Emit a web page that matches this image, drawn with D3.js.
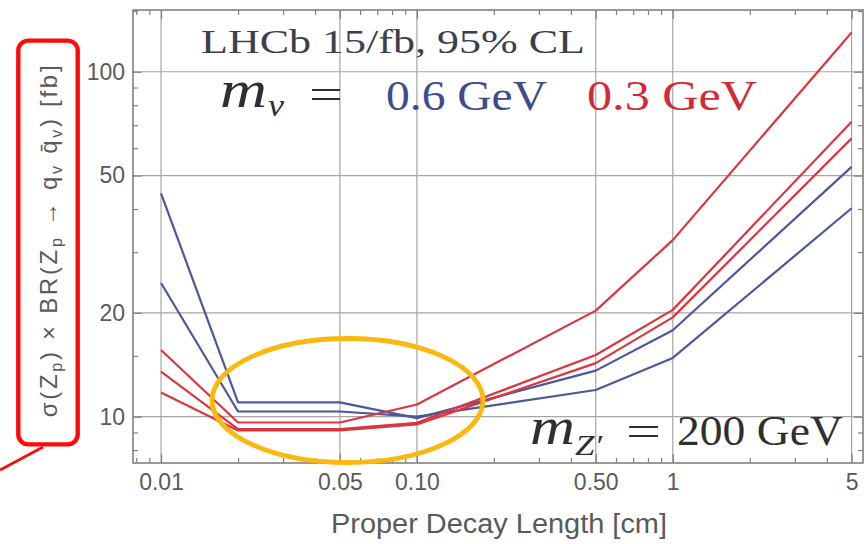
<!DOCTYPE html>
<html><head><meta charset="utf-8">
<script src="https://cdn.jsdelivr.net/npm/d3@7"></script>
<style>html,body{margin:0;padding:0;background:#fff;} svg{display:block;}</style>
</head><body>
<script>
// ---------- data ----------
const decayLengths = [0.01, 0.02, 0.05, 0.1, 0.5, 1, 5];
const blueA = [44.4, 11.0, 11.0, 9.9, 13.6, 17.8, 53.0];
const blueB = [24.4, 10.35, 10.35, 10.0, 11.95, 14.8, 40.2];
const redA  = [15.6, 9.62, 9.62, 10.85, 20.3, 32.5, 130];
const redB  = [13.5, 9.2, 9.2, 9.6, 15.1, 20.4, 71.6];
const redC  = [11.75, 9.12, 9.12, 9.5, 14.3, 19.4, 64.1];
const xTickValues = [0.01, 0.05, 0.1, 0.5, 1, 5];
const xTickLabels = ["0.01", "0.05", "0.10", "0.50", "1", "5"];
const xMinorTicks = [0.008, 0.009, 0.02, 0.03, 0.04, 0.06, 0.07, 0.08, 0.09, 0.2, 0.3, 0.4, 0.6, 0.7, 0.8, 0.9, 2, 3, 4];
const yTickValues = [10, 20, 50, 100];
const yTickLabels = ["10", "20", "50", "100"];
const yMinorTicks = [8, 9, 15, 30, 40, 60, 70, 80, 90, 150];

// ---------- layout ----------
const W = 864, H = 544;
const plot = {left: 133, right: 863, top: 10, bottom: 463};
const xDomain = [0.00777, 5.54], yDomain = [7.34, 151];
const blue = "#4b5899", red = "#da3640";
const gridColor = "#a6a6a6", frameColor = "#808080", tickText = "#5a5a5a";

const svg = d3.select("body").append("svg").attr("width", W).attr("height", H)
  .style("font-family", "'Liberation Sans', Arial, sans-serif");

const x = d3.scaleLog().domain(xDomain).range([plot.left, plot.right]);
const y = d3.scaleLog().domain(yDomain).range([plot.bottom, plot.top]);

// grid
svg.append("g").selectAll("line").data(xTickValues).join("line")
  .attr("x1", d => x(d)).attr("x2", d => x(d))
  .attr("y1", plot.top).attr("y2", plot.bottom)
  .attr("stroke", gridColor).attr("stroke-width", 1.2);
svg.append("g").selectAll("line").data(yTickValues).join("line")
  .attr("y1", d => y(d)).attr("y2", d => y(d))
  .attr("x1", plot.left).attr("x2", plot.right)
  .attr("stroke", gridColor).attr("stroke-width", 1.2);

// axes (inward ticks, Mathematica-style frame)
function styleAxis(g) {
  g.select(".domain").remove();
  g.selectAll(".tick line").attr("stroke", frameColor).attr("stroke-width", 1.2);
  g.selectAll(".tick text").attr("fill", tickText).attr("font-size", 23);
}
svg.append("g").attr("transform", `translate(0,${plot.bottom})`)
  .call(d3.axisBottom(x).tickValues(xTickValues).tickFormat((d, i) => xTickLabels[i])
    .tickSizeInner(-9).tickSizeOuter(0).tickPadding(11)).call(styleAxis);
svg.append("g").attr("transform", `translate(0,${plot.bottom})`)
  .call(d3.axisBottom(x).tickValues(xMinorTicks).tickFormat("").tickSizeInner(-5).tickSizeOuter(0)).call(styleAxis);
svg.append("g").attr("transform", `translate(0,${plot.top})`)
  .call(d3.axisTop(x).tickValues(xTickValues).tickFormat("").tickSizeInner(-9).tickSizeOuter(0)).call(styleAxis);
svg.append("g").attr("transform", `translate(0,${plot.top})`)
  .call(d3.axisTop(x).tickValues(xMinorTicks).tickFormat("").tickSizeInner(-5).tickSizeOuter(0)).call(styleAxis);
svg.append("g").attr("transform", `translate(${plot.left},0)`)
  .call(d3.axisLeft(y).tickValues(yTickValues).tickFormat((d, i) => yTickLabels[i])
    .tickSizeInner(-9).tickSizeOuter(0).tickPadding(8)).call(styleAxis);
svg.append("g").attr("transform", `translate(${plot.left},0)`)
  .call(d3.axisLeft(y).tickValues(yMinorTicks).tickFormat("").tickSizeInner(-5).tickSizeOuter(0)).call(styleAxis);
svg.append("g").attr("transform", `translate(${plot.right},0)`)
  .call(d3.axisRight(y).tickValues(yTickValues).tickFormat("").tickSizeInner(-9).tickSizeOuter(0)).call(styleAxis);
svg.append("g").attr("transform", `translate(${plot.right},0)`)
  .call(d3.axisRight(y).tickValues(yMinorTicks).tickFormat("").tickSizeInner(-5).tickSizeOuter(0)).call(styleAxis);

// frame
svg.append("rect").attr("x", plot.left).attr("y", plot.top)
  .attr("width", plot.right - plot.left).attr("height", plot.bottom - plot.top)
  .attr("fill", "none").attr("stroke", frameColor).attr("stroke-width", 1.6);

// curves
const series = [
  {values: blueA, color: blue}, {values: blueB, color: blue},
  {values: redA, color: red}, {values: redB, color: red}, {values: redC, color: red}
];
const line = d3.line().x((d, i) => x(decayLengths[i])).y(d => y(d));
svg.append("g").selectAll("path").data(series).join("path")
  .attr("d", d => line(d.values)).attr("fill", "none")
  .attr("stroke", d => d.color).attr("stroke-width", 2.2).attr("stroke-linejoin", "round");

// helper for fitted text
function fit(sel, w) {
  if (w) sel.attr("textLength", w).attr("lengthAdjust", "spacingAndGlyphs");
  return sel;
}
const serif = "'Liberation Serif', 'DejaVu Serif', serif";

// title texts
fit(svg.append("text").attr("x", 201).attr("y", 53).attr("font-family", serif)
  .attr("font-size", 33).attr("fill", "#3c404c").text("LHCb 15/fb, 95% CL"), 384);

fit(svg.append("text").attr("x", 220).attr("y", 107).attr("font-family", serif).attr("font-style", "italic")
  .attr("font-size", 52).attr("fill", "#2f2f2f").text("m"), 47);
fit(svg.append("text").attr("x", 268).attr("y", 116).attr("font-family", serif).attr("font-style", "italic")
  .attr("font-size", 32).attr("fill", "#2f2f2f").text("v"), 16);
fit(svg.append("text").attr("x", 309).attr("y", 108).attr("font-family", serif)
  .attr("font-size", 43).attr("fill", "#2f2f2f").text("="), 34);
fit(svg.append("text").attr("x", 386).attr("y", 110).attr("font-family", serif)
  .attr("font-size", 43).attr("fill", "#3e4c8e").text("0.6 GeV"), 161);
fit(svg.append("text").attr("x", 587).attr("y", 110).attr("font-family", serif)
  .attr("font-size", 43).attr("fill", "#d42a35").text("0.3 GeV"), 170);

fit(svg.append("text").attr("x", 530).attr("y", 444).attr("font-family", serif).attr("font-style", "italic")
  .attr("font-size", 52).attr("fill", "#2f2f2f").text("m"), 45);
fit(svg.append("text").attr("x", 575).attr("y", 455).attr("font-family", serif).attr("font-style", "italic")
  .attr("font-size", 30).attr("fill", "#2f2f2f").text("Z′"), 27);
fit(svg.append("text").attr("x", 626).attr("y", 445).attr("font-family", serif)
  .attr("font-size", 43).attr("fill", "#2f2f2f").text("="), 35);
fit(svg.append("text").attr("x", 677).attr("y", 445).attr("font-family", serif)
  .attr("font-size", 43).attr("fill", "#2f2f2f").text("200 GeV"), 166);

// axis titles
fit(svg.append("text").attr("x", 499).attr("y", 533).attr("text-anchor", "middle")
  .attr("font-size", 27).attr("fill", tickText).text("Proper Decay Length [cm]"), 336);

const yl = svg.append("text").attr("transform", "translate(57,240) rotate(-90)")
  .attr("text-anchor", "middle").attr("font-size", 24).attr("fill", tickText);
yl.append("tspan").text("σ(Z");
yl.append("tspan").attr("font-size", 16).attr("dy", 5).text("p");
yl.append("tspan").attr("dy", -5).text(") × BR(Z");
yl.append("tspan").attr("font-size", 16).attr("dy", 5).text("p");
yl.append("tspan").attr("dy", -5).text(" → q");
yl.append("tspan").attr("font-size", 16).attr("dy", 5).text("v");
yl.append("tspan").attr("dy", -5).text(" q\u0304");
yl.append("tspan").attr("font-size", 16).attr("dy", 5).text("v");
yl.append("tspan").attr("dy", -5).text(")  [fb]");
{
  const nat = yl.node().getComputedTextLength();
  const nch = yl.text().length;
  yl.attr("letter-spacing", ((360 - nat) / nch).toFixed(2));
}

// annotations
svg.append("ellipse").attr("cx", 347.5).attr("cy", 400.5).attr("rx", 135.5).attr("ry", 62)
  .attr("fill", "none").attr("stroke", "#fbb80f").attr("stroke-width", 4.8);
svg.append("rect").attr("x", 18.3).attr("y", 40.6).attr("width", 59.4).attr("height", 403.8)
  .attr("rx", 10).attr("fill", "none").attr("stroke", "#ff0a0a").attr("stroke-width", 4.4);
svg.append("line").attr("x1", 43).attr("y1", 447).attr("x2", 0).attr("y2", 470)
  .attr("stroke", "#ff0a0a").attr("stroke-width", 2.8);
</script>
</body></html>
